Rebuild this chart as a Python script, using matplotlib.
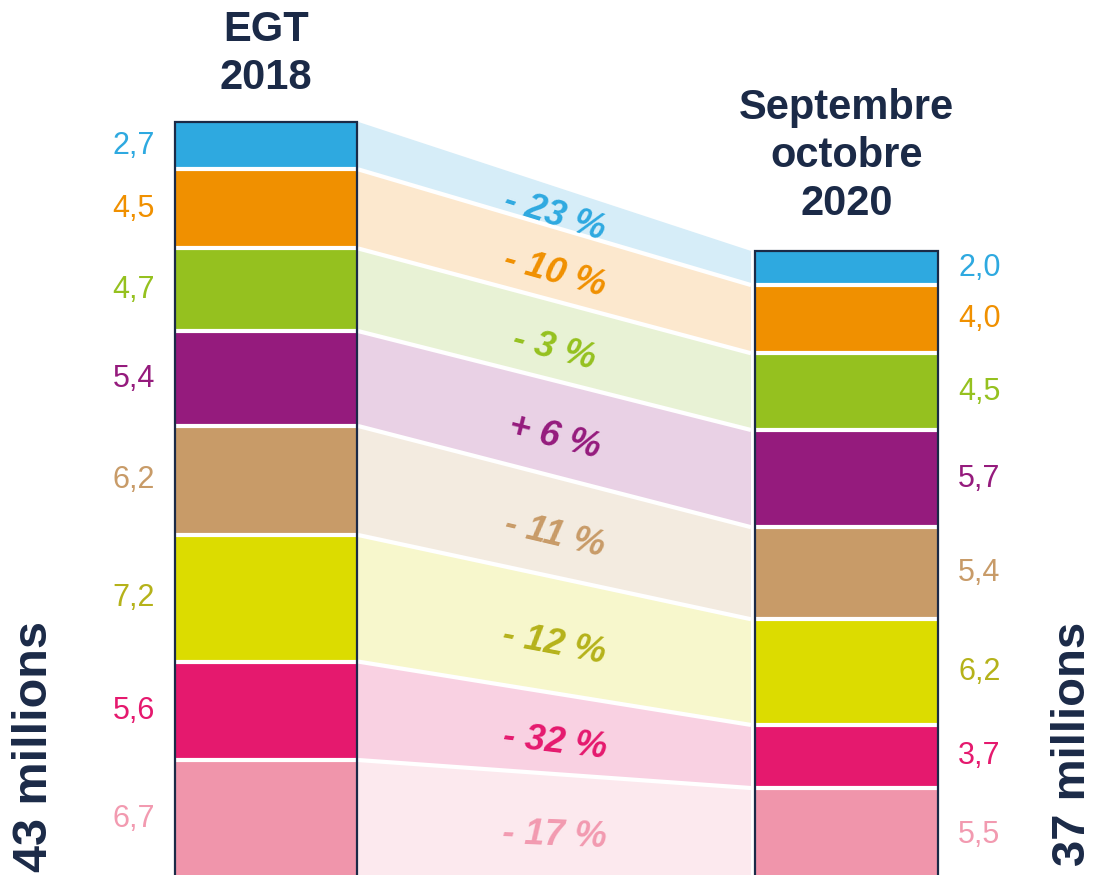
import matplotlib
matplotlib.use("Agg")
import matplotlib.pyplot as plt
from matplotlib.patches import Rectangle, Polygon
from matplotlib.transforms import offset_copy
import numpy as np

# ---------------- data (segments listed top to bottom) ----------------
values_2018 = [2.7, 4.5, 4.7, 5.4, 6.2, 7.2, 5.6, 6.7]
values_2020 = [2.0, 4.0, 4.5, 5.7, 5.4, 6.2, 3.7, 5.5]
change_labels = ["- 23 %", "- 10 %", "- 3 %", "+ 6 %", "- 11 %", "- 12 %", "- 32 %", "- 17 %"]
period_labels = ["EGT\n2018", "Septembre\noctobre\n2020"]
total_labels = ["43 millions", "37 millions"]

# ---------------- styles ----------------
strong = ["#2EA9E0", "#F09000", "#95C11F", "#951B7D", "#C89B68", "#DCDC00", "#E5196E", "#F095AB"]
light = ["#D6EDF8", "#FCE8CE", "#E8F2D5", "#E9D1E5", "#F3EBE0", "#F7F7CC", "#F9D1E2", "#FCE9EE"]
label_col = ["#2EA9E0", "#F09000", "#95C11F", "#951B7D", "#C89B68", "#B5B21A", "#E5196E", "#F29AB0"]
NAVY = "#1B2A47"
FONT = "Liberation Sans"

W, H = 1094, 875
fig = plt.figure(figsize=(W / 100, H / 100), dpi=100)
ax = fig.add_axes([0, 0, 1, 1])
ax.set_xlim(0, W)
ax.set_ylim(0.159, 49.93)
ax.axis("off")
ax2 = ax.twinx()
ax2.set_ylim(0.399, 51.72)
ax2.axis("off")

L_X0, L_X1 = 175, 357
R_X0, R_X1 = 755, 938
B_X0, B_X1 = 358, 751
SEP_LW = 3.0


def bounds(vals):
    tops = [sum(vals[i:]) for i in range(len(vals))]
    bots = [sum(vals[i + 1:]) for i in range(len(vals))]
    return tops, bots


ltops, lbots = bounds(values_2018)
rtops, rbots = bounds(values_2020)


def r2l(y):
    """convert a y value of the right axis into the left axis data coords"""
    disp = ax2.transData.transform((0, y))
    return ax.transData.inverted().transform(disp)[1]


def draw_bar(a, x0, x1, vals, tops, bots):
    for v, t, b, c in zip(vals, tops, bots, strong):
        a.add_patch(Rectangle((x0, b), x1 - x0, v, facecolor=c, edgecolor="none", zorder=2))
    for b in bots[:-1]:
        a.plot([x0 + 1, x1 - 1], [b, b], color="white", lw=SEP_LW, zorder=3, solid_capstyle="butt")
    a.add_patch(Rectangle((x0, 0), x1 - x0, tops[0], facecolor="none", edgecolor=NAVY,
                          lw=1.6, zorder=4))


draw_bar(ax, L_X0, L_X1, values_2018, ltops, lbots)
draw_bar(ax2, R_X0, R_X1, values_2020, rtops, rbots)

# bands between bars
for i in range(len(values_2018)):
    lt, lb = ltops[i], lbots[i]
    rt, rb = r2l(rtops[i]), r2l(rbots[i])
    ax.add_patch(Polygon([(B_X0, lt), (B_X1, rt), (B_X1, rb), (B_X0, lb)],
                         closed=True, facecolor=light[i], edgecolor="none", zorder=1))
for i in range(len(values_2018) - 1):
    ax.plot([B_X0, B_X1], [lbots[i], r2l(rbots[i])], color="white", lw=SEP_LW, zorder=1.5,
            solid_capstyle="butt")

# change labels along bands
xm = (B_X0 + B_X1) / 2
lab_tr = offset_copy(ax.transData, fig=fig, x=0, y=-9, units="dots")
for i, lab in enumerate(change_labels):
    lmid = (ltops[i] + lbots[i]) / 2
    rmid = (r2l(rtops[i]) + r2l(rbots[i])) / 2
    p1 = ax.transData.transform((B_X0, lmid))
    p2 = ax.transData.transform((B_X1, rmid))
    ang = np.degrees(np.arctan2(p2[1] - p1[1], p2[0] - p1[0]))
    ym = lmid + (rmid - lmid) * (xm - B_X0) / (B_X1 - B_X0)
    ax.text(xm, ym, lab, rotation=ang, rotation_mode="anchor", ha="center", va="center",
            fontsize=26, fontweight="bold", fontstyle="italic", color=label_col[i],
            family=FONT, zorder=5, transform=lab_tr)

# value labels
for i in range(len(values_2018)):
    ax.text(155, (ltops[i] + lbots[i]) / 2, f"{values_2018[i]:.1f}".replace(".", ","),
            ha="right", va="center", fontsize=22, color=label_col[i], family=FONT, zorder=5)
    ax2.text(958, (rtops[i] + rbots[i]) / 2, f"{values_2020[i]:.1f}".replace(".", ","),
             ha="left", va="center", fontsize=22, color=label_col[i], family=FONT, zorder=5)

# titles
fig.text((L_X0 + L_X1) / 2 / W, 1 - 54 / H, period_labels[0], ha="center", va="center",
         fontsize=30, fontweight="bold", color=NAVY, family=FONT, linespacing=1.25)
fig.text((R_X0 + R_X1) / 2 / W, 1 - 156 / H, period_labels[1], ha="center", va="center",
         fontsize=30, fontweight="bold", color=NAVY, family=FONT, linespacing=1.27)

# totals
fig.text(35 / W, 1 - 746 / H, total_labels[0], rotation=90, ha="center", va="center",
         fontsize=35, fontweight="bold", color=NAVY, family=FONT)
fig.text(1073 / W, 1 - 744 / H, total_labels[1], rotation=90, ha="center", va="center",
         fontsize=34, fontweight="bold", color=NAVY, family=FONT)

fig.savefig("out.png", dpi=100)
